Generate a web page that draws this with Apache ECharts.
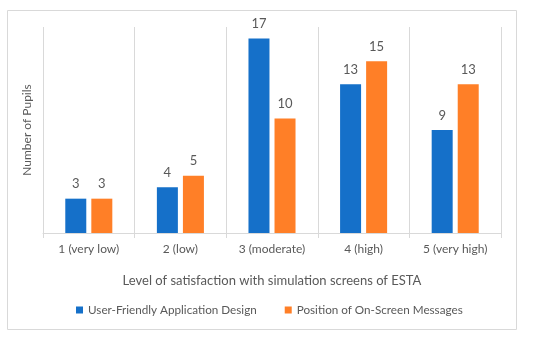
<!DOCTYPE html>
<html><head><meta charset="utf-8">
<script src="https://cdn.jsdelivr.net/npm/echarts@6/dist/echarts.min.js"></script>
<style>html,body{margin:0;padding:0;background:#fff;}#c{width:550px;height:337px;}</style>
</head><body><div id="c"></div>
<script>
const categories = ['1 (very low)', '2 (low)', '3 (moderate)', '4 (high)', '5 (very high)'];
const seriesNames = ['User-Friendly Application Design', 'Position of On-Screen Messages'];
const designValues = [3, 4, 17, 13, 9];
const messageValues = [3, 5, 10, 15, 13];
const xAxisTitle = 'Level of satisfaction with simulation screens of ESTA';
const yAxisTitle = 'Number of Pupils';

const FONT = 'Lato';
const TXT = '#595959';
const chart = echarts.init(document.getElementById('c'), null, {renderer: 'canvas'});
const lbl = {show: true, position: 'top', color: TXT, fontFamily: FONT, fontSize: 13, distance: 8};
chart.setOption({
  animation: false,
  textStyle: {fontFamily: FONT},
  graphic: [{type: 'rect', shape: {x: 7.5, y: 10.5, width: 509, height: 319}, style: {fill: 'none', stroke: '#d9d9d9', lineWidth: 1}, silent: true}],
  grid: {left: 43, right: 49, top: 27, bottom: 104},
  legend: {
    bottom: 16, left: 71, itemWidth: 7, itemHeight: 7, itemGap: 28,
    icon: 'rect', textStyle: {color: TXT, fontFamily: FONT, fontSize: 11.7},
    data: seriesNames
  },
  xAxis: {
    type: 'category', data: categories,
    name: xAxisTitle, nameLocation: 'middle', nameGap: 41,
    nameTextStyle: {color: TXT, fontFamily: FONT, fontSize: 13},
    axisLine: {lineStyle: {color: '#d9d9d9'}},
    axisTick: {show: true, length: 5, interval: 0, lineStyle: {color: '#d9d9d9'}},
    axisLabel: {color: TXT, fontFamily: FONT, fontSize: 12, margin: 10, interval: 0},
    splitLine: {show: true, interval: 0, lineStyle: {color: '#d9d9d9'}}
  },
  yAxis: {
    type: 'value', min: 0, max: 18, interval: 2,
    name: yAxisTitle, nameLocation: 'middle', nameGap: 10,
    nameTextStyle: {color: TXT, fontFamily: FONT, fontSize: 12},
    axisLabel: {show: false}, axisTick: {show: false},
    axisLine: {show: false}, splitLine: {show: false}
  },
  series: [
    {name: seriesNames[0], type: 'bar', data: designValues, barWidth: 21, barGap: '24%', itemStyle: {color: '#1570C9'}, label: lbl},
    {name: seriesNames[1], type: 'bar', data: messageValues, barWidth: 21, barGap: '24%', itemStyle: {color: '#FF7F27'}, label: lbl}
  ]
});
</script></body></html>
